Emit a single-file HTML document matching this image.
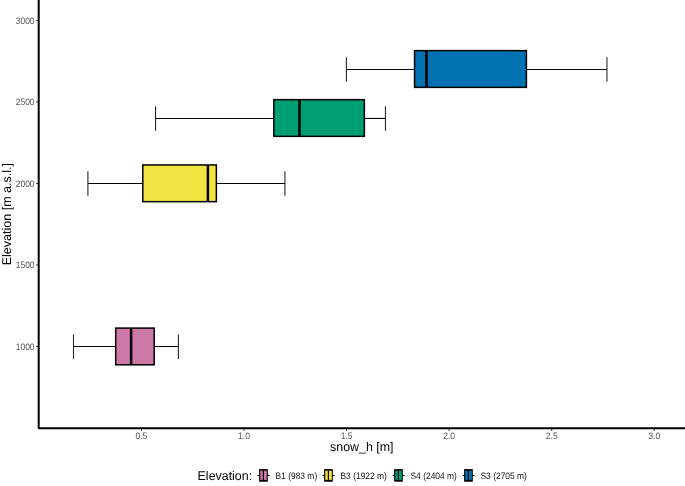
<!DOCTYPE html>
<html><head><meta charset="utf-8">
<style>
html,body{margin:0;padding:0;background:#fff;}
body{width:685px;height:486px;overflow:hidden;}
svg{display:block;font-family:"Liberation Sans",sans-serif;will-change:transform;text-rendering:geometricPrecision;}
.tk{font-size:9.4px;fill:#555;}
.ttl{font-size:12.6px;fill:#000;}
.lg{font-size:9.3px;fill:#111;}
</style></head>
<body>
<svg width="685" height="486" viewBox="0 0 685 486">
<!-- y ticks -->
<g stroke="#4d4d4d" stroke-width="1.07">
<line x1="36" y1="20.4" x2="38.5" y2="20.4"/>
<line x1="36" y1="101.9" x2="38.5" y2="101.9"/>
<line x1="36" y1="183.45" x2="38.5" y2="183.45"/>
<line x1="36" y1="264.95" x2="38.5" y2="264.95"/>
<line x1="36" y1="346.5" x2="38.5" y2="346.5"/>
<!-- x ticks -->
<line x1="141.4" y1="429" x2="141.4" y2="431"/>
<line x1="243.98" y1="429" x2="243.98" y2="431"/>
<line x1="346.56" y1="429" x2="346.56" y2="431"/>
<line x1="449.14" y1="429" x2="449.14" y2="431"/>
<line x1="551.72" y1="429" x2="551.72" y2="431"/>
<line x1="654.3" y1="429" x2="654.3" y2="431"/>
</g>
<g class="tk" text-anchor="end">
<text x="34.6" y="23.85" textLength="18.9" lengthAdjust="spacingAndGlyphs">3000</text>
<text x="34.6" y="105.35" textLength="18.9" lengthAdjust="spacingAndGlyphs">2500</text>
<text x="34.6" y="186.90" textLength="18.9" lengthAdjust="spacingAndGlyphs">2000</text>
<text x="34.6" y="268.40" textLength="18.9" lengthAdjust="spacingAndGlyphs">1500</text>
<text x="34.6" y="349.95" textLength="18.9" lengthAdjust="spacingAndGlyphs">1000</text>
</g>
<g class="tk" text-anchor="middle">
<text x="141.4" y="438.6" textLength="11.8" lengthAdjust="spacingAndGlyphs">0.5</text>
<text x="243.98" y="438.6" textLength="11.8" lengthAdjust="spacingAndGlyphs">1.0</text>
<text x="346.56" y="438.6" textLength="11.8" lengthAdjust="spacingAndGlyphs">1.5</text>
<text x="449.14" y="438.6" textLength="11.8" lengthAdjust="spacingAndGlyphs">2.0</text>
<text x="551.72" y="438.6" textLength="11.8" lengthAdjust="spacingAndGlyphs">2.5</text>
<text x="654.3" y="438.6" textLength="11.8" lengthAdjust="spacingAndGlyphs">3.0</text>
</g>
<!-- boxes -->
<g stroke="#000" fill="none">
<!-- S3 blue -->
<line x1="346.4" y1="69.45" x2="414.6" y2="69.45" stroke-width="1.07"/>
<line x1="526.4" y1="69.45" x2="606.95" y2="69.45" stroke-width="1.07"/>
<line x1="346.4" y1="57.2" x2="346.4" y2="81.7" stroke-width="1.07" stroke="#222"/>
<line x1="606.95" y1="57.2" x2="606.95" y2="81.7" stroke-width="1.07" stroke="#222"/>
<rect x="414.55" y="50.65" width="111.86" height="36.7" fill="#0072B2" stroke-width="1.5"/>
<line x1="426.5" y1="50.65" x2="426.5" y2="87.35" stroke-width="2.6"/>
<!-- S4 green -->
<line x1="155.55" y1="118.45" x2="273.9" y2="118.45" stroke-width="1.07"/>
<line x1="364.3" y1="118.45" x2="385.45" y2="118.45" stroke-width="1.07"/>
<line x1="155.55" y1="106.2" x2="155.55" y2="130.7" stroke-width="1.07" stroke="#222"/>
<line x1="385.45" y1="106.2" x2="385.45" y2="130.7" stroke-width="1.07" stroke="#222"/>
<rect x="273.85" y="99.65" width="90.5" height="36.7" fill="#009E73" stroke-width="1.5"/>
<line x1="299.5" y1="99.65" x2="299.5" y2="136.35" stroke-width="2.6"/>
<!-- B3 yellow -->
<line x1="87.9" y1="183.5" x2="142.8" y2="183.5" stroke-width="1.07"/>
<line x1="216.3" y1="183.5" x2="284.95" y2="183.5" stroke-width="1.07"/>
<line x1="87.9" y1="171.3" x2="87.9" y2="195.8" stroke-width="1.07" stroke="#222"/>
<line x1="284.95" y1="171.3" x2="284.95" y2="195.8" stroke-width="1.07" stroke="#222"/>
<rect x="142.8" y="164.95" width="73.56" height="36.7" fill="#F0E442" stroke-width="1.5"/>
<line x1="207.9" y1="164.95" x2="207.9" y2="201.65" stroke-width="2.5"/>
<!-- B1 pink -->
<line x1="73.5" y1="346.5" x2="115.7" y2="346.5" stroke-width="1.07"/>
<line x1="154.2" y1="346.5" x2="178.4" y2="346.5" stroke-width="1.07"/>
<line x1="73.5" y1="334.4" x2="73.5" y2="358.9" stroke-width="1.07" stroke="#222"/>
<line x1="178.4" y1="334.4" x2="178.4" y2="358.9" stroke-width="1.07" stroke="#222"/>
<rect x="115.7" y="328.1" width="38.5" height="36.7" fill="#CC79A7" stroke-width="1.5"/>
<line x1="131.1" y1="328.1" x2="131.1" y2="364.8" stroke-width="2.5"/>
</g>
<!-- axes -->
<path d="M38.7 0 V428.3 H685" stroke="#000" stroke-width="2.0" fill="none" stroke-linejoin="bevel"/>
<!-- axis titles -->
<text class="ttl" x="361.8" y="451.2" text-anchor="middle" textLength="63.4" lengthAdjust="spacingAndGlyphs">snow_h [m]</text>
<text class="ttl" transform="translate(11.1,214.2) rotate(-90)" text-anchor="middle" textLength="102.3" lengthAdjust="spacingAndGlyphs">Elevation [m a.s.l.]</text>
<!-- legend -->
<text class="ttl" x="197.6" y="480.25" textLength="54.5" lengthAdjust="spacingAndGlyphs">Elevation:</text>
<g transform="translate(259,469.1)"><rect x="-1.3" y="5.85" width="11.7" height="1.05" fill="#000"/><rect x="0.1" y="0" width="8.7" height="12.6" fill="#000"/><rect x="1.3" y="1.6" width="2.45" height="9.2" fill="#CC79A7"/><rect x="4.95" y="1.6" width="2.85" height="9.2" fill="#CC79A7"/></g>
<g transform="translate(324,469.1)"><rect x="-1.3" y="5.85" width="11.7" height="1.05" fill="#000"/><rect x="0.1" y="0" width="8.7" height="12.6" fill="#000"/><rect x="1.3" y="1.6" width="2.45" height="9.2" fill="#F0E442"/><rect x="4.95" y="1.6" width="2.85" height="9.2" fill="#F0E442"/></g>
<g transform="translate(394,469.1)"><rect x="-1.3" y="5.85" width="11.7" height="1.05" fill="#000"/><rect x="0.1" y="0" width="8.7" height="12.6" fill="#000"/><rect x="1.3" y="1.6" width="2.45" height="9.2" fill="#009E73"/><rect x="4.95" y="1.6" width="2.85" height="9.2" fill="#009E73"/></g>
<g transform="translate(464,469.1)"><rect x="-1.3" y="5.85" width="11.7" height="1.05" fill="#000"/><rect x="0.1" y="0" width="8.7" height="12.6" fill="#000"/><rect x="1.3" y="1.6" width="2.45" height="9.2" fill="#0072B2"/><rect x="4.95" y="1.6" width="2.85" height="9.2" fill="#0072B2"/></g>
<g class="lg">
<text x="275.5" y="478.8" textLength="41.7" lengthAdjust="spacingAndGlyphs">B1 (983 m)</text>
<text x="340.5" y="478.8" textLength="46.4" lengthAdjust="spacingAndGlyphs">B3 (1922 m)</text>
<text x="410.5" y="478.8" textLength="46.4" lengthAdjust="spacingAndGlyphs">S4 (2404 m)</text>
<text x="480.5" y="478.8" textLength="46.4" lengthAdjust="spacingAndGlyphs">S3 (2705 m)</text>
</g>
</svg>
</body></html>
